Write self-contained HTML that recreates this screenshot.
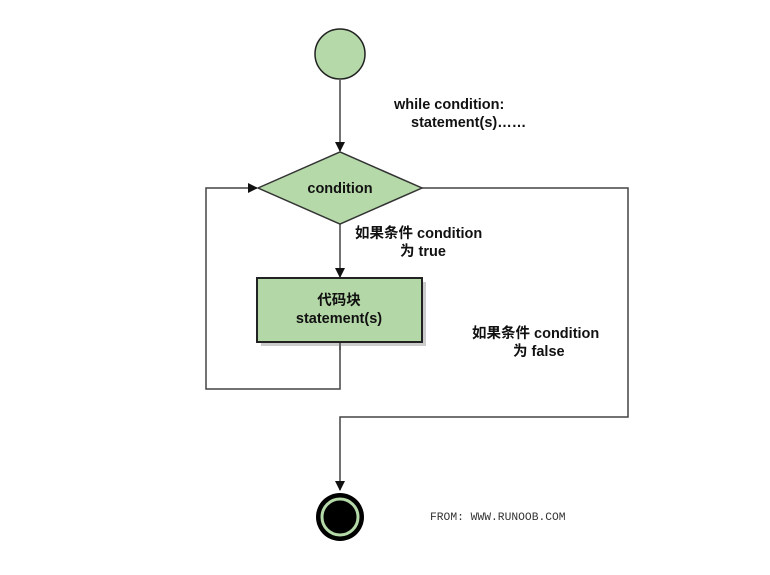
<!DOCTYPE html>
<html><head><meta charset="utf-8"><style>
body{margin:0;background:#fff;}
svg text{font-family:"Liberation Sans","Noto Sans CJK SC",sans-serif;font-weight:bold;font-size:14.5px;fill:#111;}
</style></head><body>
<svg width="770" height="570" viewBox="0 0 770 570" xmlns="http://www.w3.org/2000/svg">
<defs><marker id="a" markerWidth="10" markerHeight="10" refX="9" refY="5" orient="auto" markerUnits="userSpaceOnUse"><path d="M0,0 L10,5 L0,10 Z" fill="#111"/></marker></defs>
<g stroke="#444" stroke-width="1.5" fill="none">
<line x1="340" y1="80" x2="340" y2="151" marker-end="url(#a)"/>
<line x1="340" y1="224" x2="340" y2="277" marker-end="url(#a)"/>
<polyline points="340,343 340,389 206,389 206,188 257,188" marker-end="url(#a)"/>
<polyline points="422,188 628,188 628,417 340,417 340,490" marker-end="url(#a)"/>
</g>
<circle cx="340" cy="54" r="25" fill="#b5d9a8" stroke="#222" stroke-width="1.5"/>
<polygon points="258,188 340,152 422,188 340,224" fill="#b5d9a8" stroke="#333" stroke-width="1.5"/>
<rect x="261" y="282" width="165" height="64" fill="#ccc"/>
<rect x="257" y="278" width="165" height="64" fill="#b3d7a6" stroke="#222" stroke-width="2"/>
<line x1="340" y1="343" x2="340" y2="350" stroke="#444" stroke-width="1.5"/>
<circle cx="340" cy="517" r="24" fill="#000"/>
<circle cx="340" cy="517" r="18" fill="none" stroke="#b5d9a8" stroke-width="3"/>
<text x="340" y="193" text-anchor="middle">condition</text>
<text x="394" y="109">while condition:</text>
<text x="411" y="127">statement(s)……</text>
<text x="355" y="238">如果条件 condition</text>
<text x="400" y="256">为 true</text>
<text x="339" y="305" text-anchor="middle">代码块</text>
<text x="339" y="323" text-anchor="middle">statement(s)</text>
<text x="472" y="338">如果条件 condition</text>
<text x="513" y="356">为 false</text>
<text x="430" y="520" style="font-family:'Liberation Mono',monospace;font-weight:normal;font-size:11.3px;fill:#333">FROM: WWW.RUNOOB.COM</text>
</svg>
</body></html>
